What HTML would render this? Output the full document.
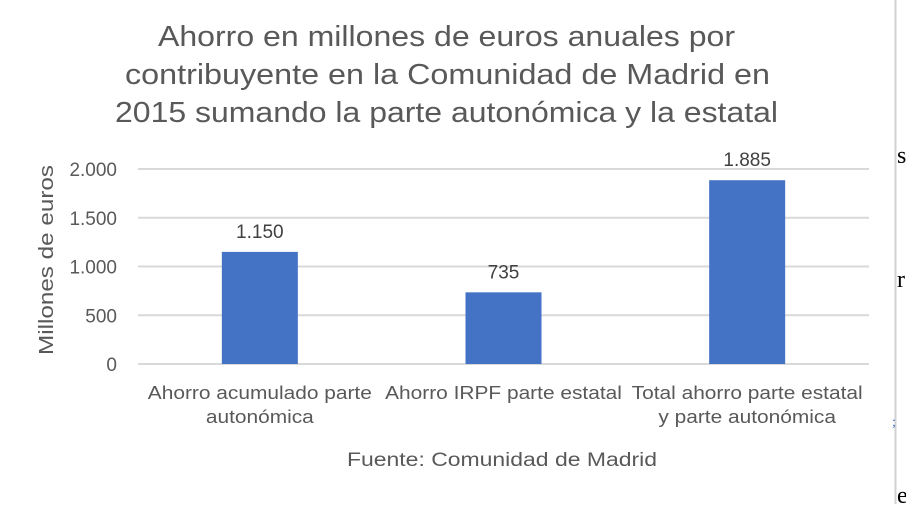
<!DOCTYPE html>
<html><head><meta charset="utf-8"><style>
body{margin:0;width:906px;height:504px;background:#fff;overflow:hidden;font-family:"Liberation Sans",sans-serif;}
</style></head><body>
<svg width="906" height="504" id="c">
<rect x="0" y="0" width="906" height="504" fill="#fff"/>
<line x1="895.5" y1="0" x2="895.5" y2="504" stroke="#d0d0d0" stroke-width="2"/>
<g font-family="Liberation Serif, serif" font-size="24" fill="#000">
<text x="897" y="163">s</text><text x="897" y="287">r</text><text x="892" y="426" font-size="14" fill="#4472c4">;</text><text x="897" y="503">e</text>
</g>
<g font-size="29" fill="#595959">
<text x="158" y="46" textLength="577" lengthAdjust="spacingAndGlyphs">Ahorro en millones de euros anuales por</text>
<text x="125" y="84" textLength="645" lengthAdjust="spacingAndGlyphs">contribuyente en la Comunidad de Madrid en</text>
<text x="115" y="122" textLength="663" lengthAdjust="spacingAndGlyphs">2015 sumando la parte autonómica y la estatal</text>
</g>
<text transform="translate(53,260) rotate(-90)" x="-95" y="0" textLength="190" lengthAdjust="spacingAndGlyphs" font-size="20" fill="#595959">Millones de euros</text>
<text x="347" y="466" textLength="310" lengthAdjust="spacingAndGlyphs" font-size="19" fill="#595959">Fuente: Comunidad de Madrid</text>
<g id="grid"></g><g id="bars"></g><g id="labels"></g>
</svg>
<script>
const categories=[["Ahorro acumulado parte","autonómica"],["Ahorro IRPF parte estatal"],["Total ahorro parte estatal","y parte autonómica"]];
const values=[1150,735,1885];
const valueLabels=["1.150","735","1.885"];
const ticks=[0,500,1000,1500,2000];
const tickLabels=["0","500","1.000","1.500","2.000"];
const NS="http://www.w3.org/2000/svg";
const x0=138,x1=869,y0=364,y1=169,maxV=2000;
const y=v=>y0-(v/maxV)*(y0-y1);
const bw=(x1-x0)/categories.length;
const xc=i=>x0+bw*(i+0.5);
function mk(t,a,p){const e=document.createElementNS(NS,t);for(const k in a)e.setAttribute(k,a[k]);p.appendChild(e);return e;}
const g=document.getElementById('grid'),b=document.getElementById('bars'),l=document.getElementById('labels');
ticks.forEach((t,i)=>{
 const ln=mk('line',{x1:x0,x2:x1,y1:y(t),y2:y(t),stroke:'#d9d9d9','stroke-width':2},g);
 
 
 const tx=mk('text',{x:117,y:y(t)+7,'text-anchor':'end','font-size':19,fill:'#595959'},g);
 tx.textContent=tickLabels[i];
 
 
});
values.forEach((v,i)=>{
 const r=mk('rect',{x:xc(i)-38,y:y(v),width:76,height:y0-y(v),fill:'#4472c4'},b);
 
 
 const vl=mk('text',{x:xc(i),y:y(v)-14,'text-anchor':'middle','font-size':19,fill:'#404040'},l);
 vl.textContent=valueLabels[i];
 
 
 categories[i].forEach((s,j)=>{
  const ct=mk('text',{x:xc(i),y:399+j*24,'text-anchor':'middle','font-size':18,fill:'#595959'},l);
  ct.textContent=s;
  
  
  const w=ct.getComputedTextLength()*1.16;
  ct.setAttribute('textLength',w);
  ct.setAttribute('lengthAdjust','spacingAndGlyphs');
 });
});
</script>
</body></html>
